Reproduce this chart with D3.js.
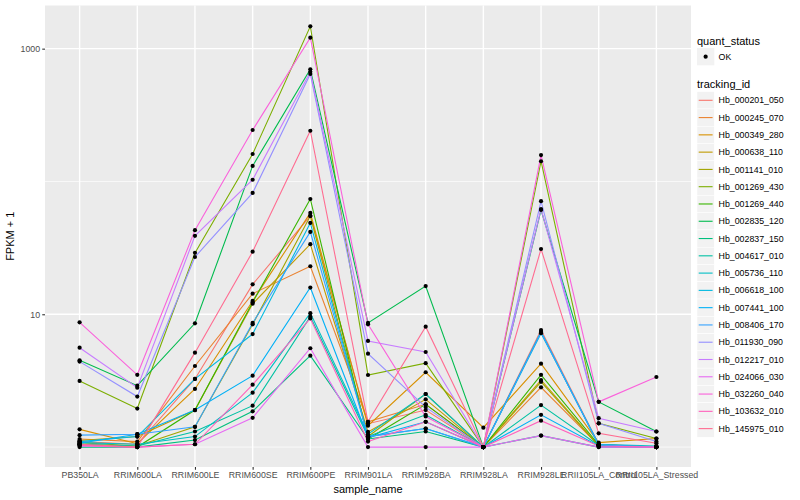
<!DOCTYPE html>
<html><head><meta charset="utf-8">
<script src="https://cdn.jsdelivr.net/npm/d3@7"></script>
<style>body{margin:0;background:#fff}svg{display:block}text{font-family:"Liberation Sans",Arial,Helvetica,sans-serif}</style>
</head><body>
<svg id="c" width="800" height="500"></svg>
<script>
const samples = ["PB350LA","RRIM600LA","RRIM600LE","RRIM600SE","RRIM600PE","RRIM901LA","RRIM928BA","RRIM928LA","RRIM928LE","RRII105LA_Control","RRII105LA_Stressed"];
const trackingIds = ["Hb_000201_050","Hb_000245_070","Hb_000349_280","Hb_000638_110","Hb_001141_010","Hb_001269_430","Hb_001269_440","Hb_002835_120","Hb_002837_150","Hb_004617_010","Hb_005736_110","Hb_006618_100","Hb_007441_100","Hb_008406_170","Hb_011930_090","Hb_012217_010","Hb_024066_030","Hb_032260_040","Hb_103632_010","Hb_145975_010"];
const colors = ["#F8766D","#EA8331","#D89000","#C09B00","#A3A500","#7CAE00","#39B600","#00BB4E","#00BF7D","#00C1A3","#00BFC4","#00BAE0","#00B0F6","#35A2FF","#9590FF","#C77CFF","#E76BF3","#FA62DB","#FF62BC","#FF6C91"];
// FPKM + 1 values, one array per tracking_id, in sample order
const v_000201_050 = [1.10,1.05,3.26,16.8,55,1.50,1.90,1.00,7.6,1.05,1.00];
const v_000245_070 = [1.15,1.10,4.08,14.3,23,1.55,2.10,1.00,2.82,1.03,1.00];
const v_000349_280 = [1.36,1.06,2.74,12.6,58,1.45,3.66,1.40,4.25,1.08,1.16];
const v_000638_110 = [1.12,1.20,1.90,12.0,33.7,1.30,2.29,1.00,3.2,1.02,1.00];
const v_001141_010 = [1.08,1.02,1.42,8.4,55,1.20,2.51,1.00,3.1,1.02,1.00];
const v_001269_430 = [3.15,1.95,29,161,1474,3.49,4.28,1.00,142,1.51,1.16];
const v_001269_440 = [1.05,1.00,1.90,12.3,73.8,1.15,2.10,1.00,3.5,1.04,1.00];
const v_002835_120 = [4.5,2.9,8.55,131,700,8.6,16.3,1.00,61,2.19,1.31];
const v_002837_150 = [1.00,1.00,1.13,1.86,4.88,1.15,1.31,1.00,1.22,1.00,1.00];
const v_004617_010 = [1.05,1.02,1.31,2.05,9.6,1.20,1.75,1.00,2.07,1.03,1.00];
const v_005736_110 = [1.08,1.05,1.20,2.57,10.2,1.25,2.51,1.00,7.2,1.05,1.02];
const v_006618_100 = [1.10,1.20,3.26,7.1,48.7,1.20,1.38,1.00,7.4,1.03,1.00];
const v_007441_100 = [1.07,1.25,1.90,3.45,15.9,1.18,1.55,1.00,1.75,1.02,1.00];
const v_008406_170 = [1.23,1.25,1.42,8.6,41.7,1.20,1.38,1.00,7.3,1.04,1.00];
const v_011930_090 = [4.4,2.4,27,82,645,5.05,2.0,1.00,71,1.51,1.10];
const v_012217_010 = [5.6,2.8,39,103,670,6.3,5.2,1.00,62,1.65,1.31];
const v_024066_030 = [1.02,1.00,1.05,1.66,5.55,1.00,1.00,1.00,1.22,1.00,1.00];
const v_032260_040 = [8.7,3.5,43,244,1210,8.4,1.70,1.00,158,2.19,3.37];
const v_103632_010 = [1.03,1.00,1.05,2.95,9.3,1.10,1.55,1.00,1.58,1.02,1.00];
const v_145975_010 = [1.05,1.00,5.14,29.6,241,1.55,8.07,1.00,31,1.27,1.07];
const seriesValues = [v_000201_050,v_000245_070,v_000349_280,v_000638_110,v_001141_010,v_001269_430,v_001269_440,v_002835_120,v_002837_150,v_004617_010,v_005736_110,v_006618_100,v_007441_100,v_008406_170,v_011930_090,v_012217_010,v_024066_030,v_032260_040,v_103632_010,v_145975_010];
const yTicks = [10,1000];
const yMinor = [1,100];

const svg = d3.select("#c");
const L=45, R=691, T=5.5, B=467;
const x = d3.scalePoint().domain(samples).range([L,R]).padding(0.6);
const y = d3.scaleLog().domain([Math.pow(10,-0.15),Math.pow(10,3.325)]).range([B,T]);

svg.append("rect").attr("x",L).attr("y",T).attr("width",R-L).attr("height",B-T).attr("fill","#EBEBEB");
const g = svg.append("g");
g.selectAll(".ymin").data(yMinor).join("line").attr("x1",L).attr("x2",R).attr("y1",d=>y(d)).attr("y2",d=>y(d)).attr("stroke","#fff").attr("stroke-width",0.7);
g.selectAll(".ymaj").data(yTicks).join("line").attr("x1",L).attr("x2",R).attr("y1",d=>y(d)).attr("y2",d=>y(d)).attr("stroke","#fff").attr("stroke-width",1.4);
g.selectAll(".xmaj").data(samples).join("line").attr("x1",d=>x(d)).attr("x2",d=>x(d)).attr("y1",T).attr("y2",B).attr("stroke","#fff").attr("stroke-width",1.4);

svg.append("clipPath").attr("id","pc").append("rect").attr("x",L).attr("y",T).attr("width",R-L).attr("height",B-T);
const line = d3.line().x((d,i)=>x(samples[i])).y(d=>y(d));
const lg = svg.append("g").attr("clip-path","url(#pc)");
seriesValues.forEach((vals,k)=>{
  lg.append("path").attr("d",line(vals)).attr("fill","none").attr("stroke",colors[k]).attr("stroke-width",1.1);
});
seriesValues.forEach((vals,k)=>{
  lg.selectAll(null).data(vals).join("circle").attr("cx",(d,i)=>x(samples[i])).attr("cy",d=>y(d)).attr("r",2.1).attr("fill","#000");
});

// axes
const ya = svg.append("g").attr("transform",`translate(${L},0)`).call(d3.axisLeft(y).tickValues(yTicks).tickFormat(d3.format("d")).tickSize(2.75).tickPadding(2.2));
const xa = svg.append("g").attr("transform",`translate(0,${B})`).call(d3.axisBottom(x).tickSize(2.75).tickPadding(2.2));
[ya,xa].forEach(a=>{a.select(".domain").remove();a.selectAll(".tick line").attr("stroke","#333333").attr("stroke-width",1.1);a.selectAll(".tick text").attr("fill","#4D4D4D").attr("font-size","8.8px").attr("font-family",null);});
xa.selectAll(".tick text").attr("dy","0.71em");

svg.append("text").attr("x",(L+R)/2).attr("y",493).attr("text-anchor","middle").attr("font-size","11px").attr("fill","#000").text("sample_name");
svg.append("text").attr("transform",`translate(13.5,${(T+B)/2}) rotate(-90)`).attr("text-anchor","middle").attr("font-size","11px").attr("fill","#000").text("FPKM + 1");

// legend
const lx=697;
const leg = svg.append("g");
leg.append("text").attr("x",lx).attr("y",44.5).attr("font-size","11px").text("quant_status");
leg.append("rect").attr("x",lx).attr("y",48).attr("width",17.3).attr("height",17.3).attr("fill","#F2F2F2");
leg.append("circle").attr("cx",lx+8.65).attr("cy",56.65).attr("r",2.1).attr("fill","#000");
leg.append("text").attr("x",lx+21.6).attr("y",56.65).attr("dy","0.35em").attr("font-size","8.8px").text("OK");
leg.append("text").attr("x",lx).attr("y",88).attr("font-size","11px").text("tracking_id");
const ky = d3.scaleLinear().domain([0,19]).range([100.3,100.3+19*17.28]);
trackingIds.forEach((t,k)=>{
  const cy = ky(k);
  leg.append("rect").attr("x",lx).attr("y",cy-8.64).attr("width",17.28).attr("height",17.28).attr("fill","#F2F2F2").attr("stroke","#fff").attr("stroke-width",0.5);
  leg.append("line").attr("x1",lx+1.7).attr("x2",lx+15.6).attr("y1",cy).attr("y2",cy).attr("stroke",colors[k]).attr("stroke-width",1.1);
  leg.append("text").attr("x",lx+21.6).attr("y",cy).attr("dy","0.35em").attr("font-size","8.8px").text(t);
});
</script>
</body></html>
